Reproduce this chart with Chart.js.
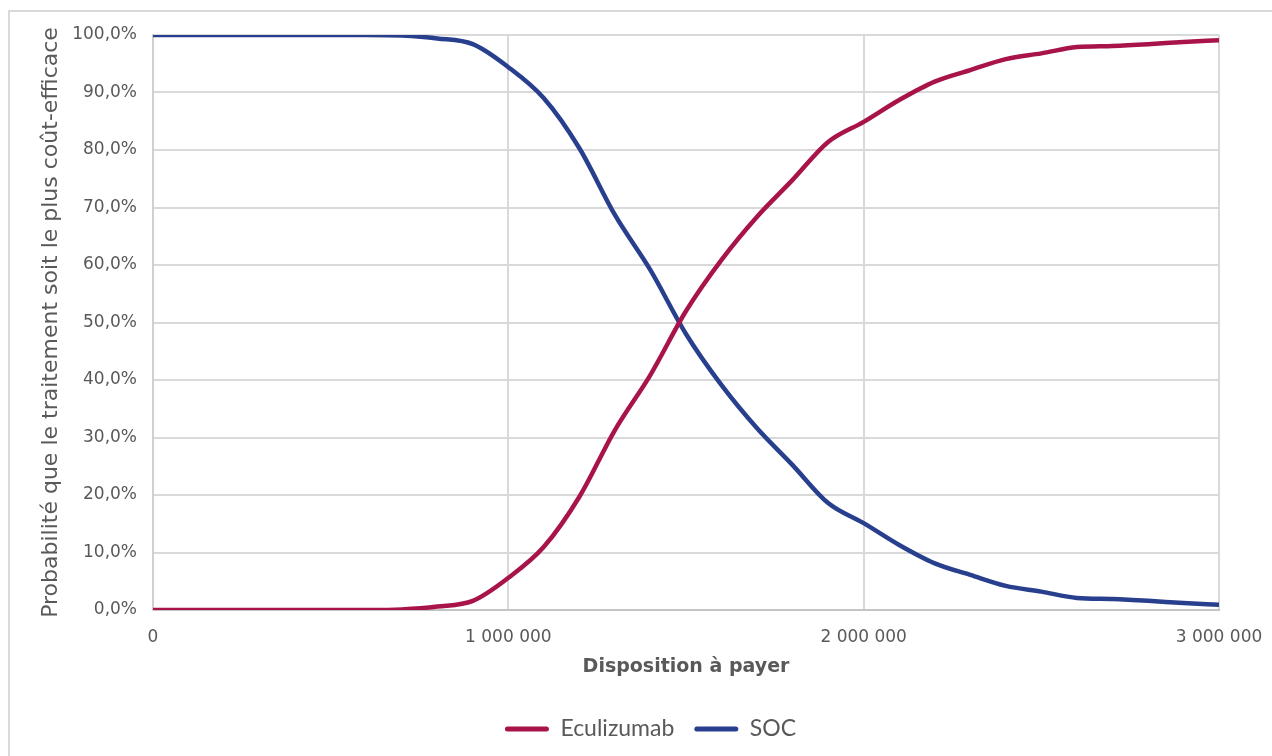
<!DOCTYPE html>
<html>
<head>
<meta charset="utf-8">
<script src="https://cdn.jsdelivr.net/npm/chart.js@4.4.1/dist/chart.umd.min.js"></script>
<style>
  html, body { margin: 0; padding: 0; background: #ffffff; }
  #wrap { position: relative; width: 1272px; height: 756px; }
</style>
</head>
<body>
<div id="wrap"><canvas id="c" width="1272" height="756"></canvas></div>
<script>
// Willingness to pay (x values)
const wtp = [0, 100000, 200000, 300000, 400000, 500000, 600000, 700000, 800000, 900000,
  1000000, 1100000, 1200000, 1300000, 1400000, 1500000, 1600000, 1700000, 1800000, 1900000,
  2000000, 2100000, 2200000, 2300000, 2400000, 2500000, 2600000, 2700000, 2800000, 2900000, 3000000];
// Probability (%) that Eculizumab is most cost-effective
const eculizumab = [0, 0, 0, 0, 0, 0, 0, 0.1, 0.6, 1.6,
  5.6, 11.0, 19.7, 31.3, 40.9, 52.0, 60.9, 68.4, 74.8, 81.4,
  84.9, 88.7, 91.9, 93.9, 95.8, 96.8, 97.9, 98.1, 98.4, 98.8, 99.1];
// Probability (%) that SOC is most cost-effective
const soc = [100, 100, 100, 100, 100, 100, 100, 99.9, 99.4, 98.4,
  94.4, 89.0, 80.3, 68.7, 59.1, 48.0, 39.1, 31.6, 25.2, 18.6,
  15.1, 11.3, 8.1, 6.1, 4.2, 3.2, 2.1, 1.9, 1.6, 1.2, 0.9];
const seriesNames = ['Eculizumab', 'SOC'];
const xTicks = [0, 1000000, 2000000, 3000000];
const yTicks = [0, 10, 20, 30, 40, 50, 60, 70, 80, 90, 100];

const ECU_COLOR = '#A8144A';
const SOC_COLOR = '#283F8E';
const TEXT = '#595959';

function fmtThousands(v) {
  return String(v).replace(/\B(?=(\d{3})+(?!\d))/g, ' ');
}

const borderPlugin = {
  id: 'outerBorder',
  beforeDraw(chart) {
    const ctx = chart.ctx;
    ctx.save();
    ctx.strokeStyle = '#d9d9d9';
    ctx.lineWidth = 2;
    ctx.beginPath();
    ctx.moveTo(9, 756);
    ctx.lineTo(9, 11);
    ctx.lineTo(1272, 11);
    ctx.stroke();
    ctx.restore();
  }
};

const legendShift = {
  id: 'legendShift',
  afterLayout(chart) {
    const lg = chart.legend;
    if (lg) { lg.left += 41; lg.right += 41; }
  }
};

new Chart(document.getElementById('c'), {
  type: 'line',
  data: {
    datasets: [
      {
        label: seriesNames[0],
        data: wtp.map((x, i) => ({ x: x, y: eculizumab[i] })),
        borderColor: ECU_COLOR,
        backgroundColor: ECU_COLOR,
        borderWidth: 4.5,
        pointRadius: 0,
        cubicInterpolationMode: 'monotone',
        fill: false
      },
      {
        label: seriesNames[1],
        data: wtp.map((x, i) => ({ x: x, y: soc[i] })),
        borderColor: SOC_COLOR,
        backgroundColor: SOC_COLOR,
        borderWidth: 4.5,
        pointRadius: 0,
        cubicInterpolationMode: 'monotone',
        fill: false
      }
    ]
  },
  options: {
    responsive: false,
    animation: false,
    devicePixelRatio: 1,
    layout: { padding: { left: 0, top: 35, right: 53, bottom: 5.5 } },
    plugins: {
      tooltip: { enabled: false },
      legend: {
        position: 'bottom',
        align: 'center',
        labels: {
          color: TEXT,
          font: { family: 'Lato', size: 23 },
          boxWidth: 44,
          boxHeight: 5,
          padding: 20,
          useBorderRadius: true,
          borderRadius: 2.5,
          generateLabels(chart) {
            const items = Chart.defaults.plugins.legend.labels.generateLabels(chart);
            items.forEach(it => { it.lineWidth = 0; });
            return items;
          }
        }
      }
    },
    scales: {
      x: {
        type: 'linear',
        min: 0,
        max: 3000000,
        afterBuildTicks(scale) { scale.ticks = xTicks.map(v => ({ value: v })); },
        afterFit(scale) { scale.height = 87.5; scale.paddingLeft = 0; scale.paddingRight = 0; },
        ticks: {
          color: TEXT,
          font: { family: 'DejaVu Sans', size: 17 },
          padding: 17,
          maxRotation: 0,
          callback: v => fmtThousands(v)
        },
        grid: { color: '#d9d9d9', lineWidth: 2, drawTicks: false },
        border: { color: '#c4c4c4', width: 2 },
        title: {
          display: true,
          text: 'Disposition à payer',
          color: TEXT,
          font: { family: 'DejaVu Sans', size: 19, weight: 'bold' },
          padding: { top: 0, bottom: 19.1 }
        }
      },
      y: {
        min: 0,
        max: 100,
        afterBuildTicks(scale) { scale.ticks = yTicks.map(v => ({ value: v })); },
        afterFit(scale) { scale.width = 153; scale.paddingTop = 0; scale.paddingBottom = 0; },
        ticks: {
          color: TEXT,
          font: { family: 'DejaVu Sans', size: 17 },
          padding: 16,
          callback: v => v.toFixed(1).replace('.', ',') + '%'
        },
        grid: { color: '#d9d9d9', lineWidth: 2, drawTicks: false },
        border: { color: '#d0d0d0', width: 2 },
        title: {
          display: true,
          text: 'Probabilité que le traitement soit le plus coût-efficace',
          color: TEXT,
          font: { family: 'DejaVu Sans', size: 22 },
          padding: { top: 37.8, bottom: 0 }
        }
      }
    }
  },
  plugins: [borderPlugin, legendShift]
});
</script>
</body>
</html>
